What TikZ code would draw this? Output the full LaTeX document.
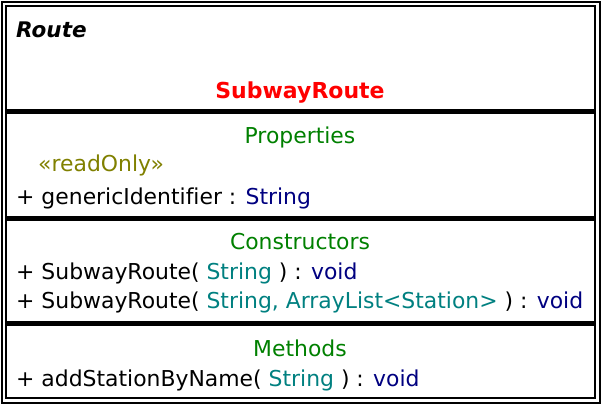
\documentclass[tikz,border=0pt]{standalone}
\usepackage{fontspec}
\setmainfont[Ligatures=NoCommon]{DejaVu Sans}
\usepackage{tikz}
\usetikzlibrary{positioning}
\definecolor{umlred}{RGB}{255, 0, 0}
\definecolor{umlgreen}{RGB}{0, 128, 0}
\definecolor{umlolive}{RGB}{128, 128, 0}
\definecolor{umlteal}{RGB}{0, 128, 128}
\definecolor{umlnavy}{RGB}{0, 0, 128}

\begin{document}
\begin{tikzpicture}[
    x=1pt, y=-1pt,
    every node/.style={inner sep=0pt, font=\fontsize{21.9}{26}\selectfont},
    member/.style={anchor=base west},
    section/.style={anchor=base, text=umlgreen},
    frame/.style={draw=black, line width=2.2pt},
    divider/.style={draw=black, line width=5pt}
]
\useasboundingbox (0,0) rectangle (602,405);

% Frame
\draw[frame] (2,2) rectangle (600,403);
\draw[frame] (6,6) rectangle (595,398);

% Name compartment
\node[member, font=\fontsize{21.5}{26}\selectfont\bfseries\itshape] (stereo) at (16,37) {Route};
\node[anchor=base, text=umlred, font=\fontsize{22}{26}\selectfont\bfseries] (classname) at (300,98) {SubwayRoute};
\draw[divider] (6,111.5) -- (595,111.5);

% Properties
\node[section] (props) at (300,143) {Properties};
\node[member, text=umlolive] (readonly) at (38,171) {«readOnly»};
\node[member] (prop1) at (16,204) {+ genericIdentifier : \textcolor{umlnavy}{String}};
\draw[divider] (6,218) -- (595,218);

% Constructors
\node[section] (ctors) at (300,249) {Constructors};
\node[member] (ctor1) at (16,279) {+ SubwayRoute( \textcolor{umlteal}{String} ) : \textcolor{umlnavy}{void}};
\node[member] (ctor2) at (16,308) {+ SubwayRoute( \textcolor{umlteal}{String, ArrayList<Station>} ) : \textcolor{umlnavy}{void}};
\draw[divider] (6,323) -- (595,323);

% Methods
\node[section] (methods) at (300,356) {Methods};
\node[member] (meth1) at (16,386) {+ addStationByName( \textcolor{umlteal}{String} ) : \textcolor{umlnavy}{void}};

\end{tikzpicture}
\end{document}
